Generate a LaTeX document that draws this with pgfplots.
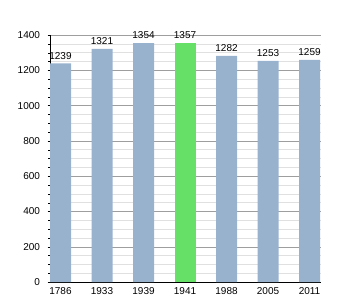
\documentclass[border=0pt]{standalone}
\usepackage{pgfplots}
\pgfplotsset{compat=1.18}
\usepackage{fontspec}
\setmainfont{Liberation Sans}
\definecolor{barblue}{HTML}{98B2CE}
\definecolor{bargreen}{HTML}{66E066}
\begin{document}
\begin{tikzpicture}[x=1pt,y=1pt]
\begin{axis}[
  scale only axis, width=271pt, height=247pt,
  xmin=-0.253, xmax=6.277, ymin=0, ymax=1400,
  axis x line*=bottom, axis y line*=left,
  ytick={0,200,...,1400}, minor y tick num=3,
  ymajorgrids, yminorgrids,
  major grid style={draw=black!38},
  minor grid style={draw=black!12},
  xtick={0,...,6},
  xticklabels={1786,1933,1939,1941,1988,2005,2011},
  xtick style={draw=none},
  ytick style={black}, tick align=outside,
  major tick length=2.5pt, minor tick length=2pt,
  ticklabel style={font=\fontsize{10}{11}\selectfont},
  /pgf/number format/assume math mode=true,
  /pgf/number format/1000 sep={},
  xticklabel style={yshift=1pt},
  yticklabel style={xshift=-4pt},
  ybar, bar width=21pt, bar shift=0pt,
  nodes near coords,
  every node near coord/.append style={font=\fontsize{10}{11}\selectfont, inner sep=1pt, yshift=3pt, text=black},
  axis line style={black},
]
\coordinate (sw) at (rel axis cs:0,0);
\addplot[fill=barblue, draw=none] coordinates {(0,1239) (1,1321) (2,1354) (4,1282) (5,1253) (6,1259)};
\addplot[fill=bargreen, draw=none] coordinates {(3,1357)};
\end{axis}
\pgfresetboundingbox
\path ([shift={(-50,-18)}]sw) rectangle ++(350,300);
\end{tikzpicture}
\end{document}
